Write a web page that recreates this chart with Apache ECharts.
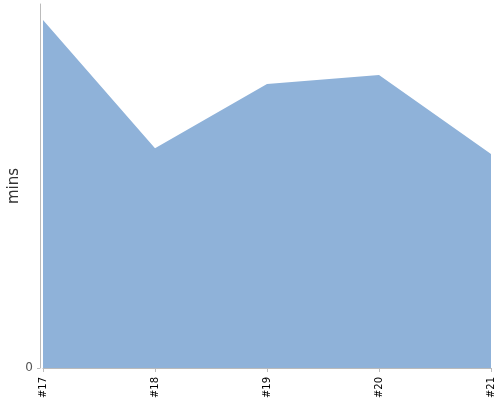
<!DOCTYPE html>
<html><head><meta charset="utf-8">
<script src="https://cdn.jsdelivr.net/npm/echarts@6/dist/echarts.min.js"></script>
<style>html,body{margin:0;padding:0;background:#fff}#c{width:500px;height:400px}</style>
</head><body><div id="c"></div>
<script>
var categories = ['#17', '#18', '#19', '#20', '#21'];
var values = [95.6, 60.4, 78.0, 80.5, 58.8];
var yTicks = [0, 100];
var chart = echarts.init(document.getElementById('c'), null, {renderer: 'canvas'});
chart.setOption({
  animation: false,
  grid: {left: 43, right: 9, top: 4, bottom: 32, containLabel: false, outerBoundsMode: 'none'},
  xAxis: {
    type: 'category', data: categories, boundaryGap: false, offset: 3,
    axisLine: {lineStyle: {color: '#bbb'}},
    axisTick: {alignWithLabel: true, length: 4, lineStyle: {color: '#bbb'}},
    axisLabel: {rotate: 90, fontSize: 10, color: '#000', fontFamily: 'DejaVu Sans', margin: 6, interval: 0}
  },
  yAxis: {
    type: 'value', min: yTicks[0], max: yTicks[1], interval: 100, offset: 3,
    name: 'mins', nameLocation: 'middle', nameGap: 18, nameMoveOverlap: false,
    nameTextStyle: {fontSize: 15, color: '#333', fontFamily: 'DejaVu Sans'},
    axisLine: {show: true, lineStyle: {color: '#bbb'}},
    axisTick: {show: true, length: 3, lineStyle: {color: '#bbb'}},
    splitLine: {show: false},
    axisLabel: {fontSize: 12, color: '#555', fontFamily: 'DejaVu Sans', margin: 7, showMaxLabel: false,
      formatter: function (v) { return v === 0 ? '0' : ''; }}
  },
  series: [{
    type: 'line', data: values, symbol: 'none',
    lineStyle: {width: 0, color: '#8fb2d9'},
    areaStyle: {color: '#8fb2d9', opacity: 1}
  }]
});
</script></body></html>
